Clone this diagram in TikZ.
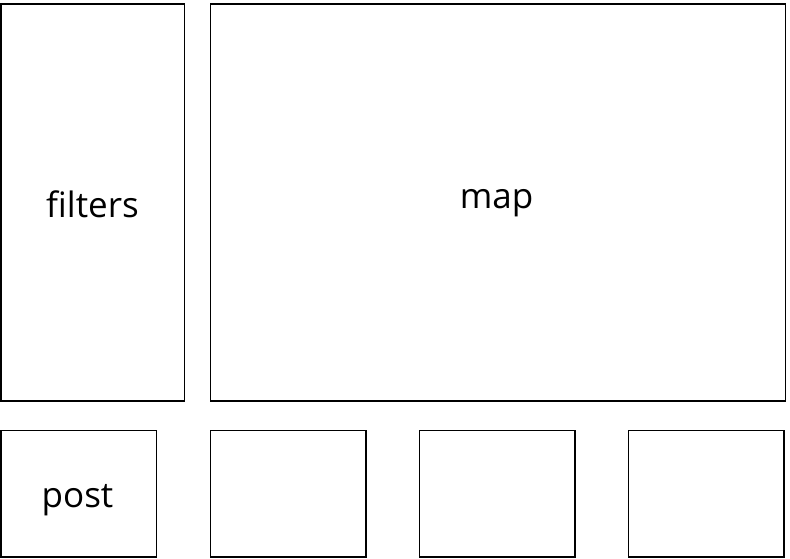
\documentclass[tikz,border=0pt]{standalone}
\usepackage{fontspec}
\setmainfont{Open Sans}
\begin{document}
\begin{tikzpicture}[x=1pt,y=-1pt,
  panel/.style={draw=black,line width=1.1pt,inner sep=0pt,outer sep=0pt},
  bigpanel/.style={panel,minimum height=397pt},
  smallpanel/.style={panel,minimum width=155.3pt,minimum height=126.7pt},
  lbl/.style={font=\fontsize{35}{38}\selectfont,anchor=base,inner sep=0pt}]
\useasboundingbox (0,0) rectangle (790,559);
\node[bigpanel,minimum width=183.3pt] (filtersbox) at (92.65,202.5) {};
\node[bigpanel,minimum width=574.6pt] (mapbox) at (498,202.5) {};
\node[smallpanel] (postbox) at (78.65,493.65) {};
\node[smallpanel] (boxb) at (288.35,493.65) {};
\node[smallpanel] (boxc) at (497.35,493.65) {};
\node[smallpanel] (boxd) at (706.35,493.65) {};
\node[lbl] (filters) at (92.5,217) {filters};
\node[lbl] (map) at (496.5,208) {map};
\node[lbl] (post) at (77.5,507) {post};
\end{tikzpicture}
\end{document}
